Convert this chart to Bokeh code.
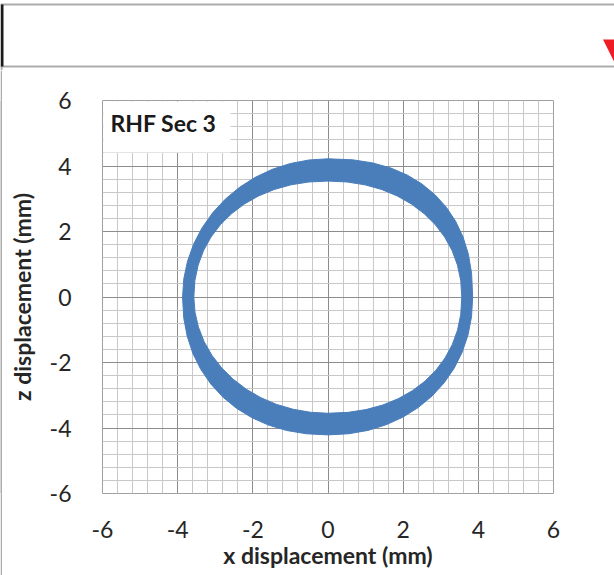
from bokeh.plotting import figure
from bokeh.layouts import column, row
from bokeh.models import FixedTicker, Label, Range1d
from bokeh.embed import file_html
from bokeh.resources import INLINE

# Orbit envelope of the section: outer and inner boundary of the traced band (mm),
# listed counter-clockwise starting from the +x side
outer_x = [3.850, 3.821, 3.736, 3.594, 3.397, 3.148, 2.848, 2.501, 2.107, 1.670, 1.188, 0.655,
           0.000, -0.505, -1.002, -1.481, -1.935, -2.356, -2.736, -3.070, -3.352, -3.575, -3.738, -3.837,
           -3.870, -3.839, -3.747, -3.595, -3.385, -3.120, -2.803, -2.439, -2.031, -1.584, -1.101, -0.582,
           0.000, 0.554, 1.063, 1.542, 1.990, 2.400, 2.768, 3.088, 3.357, 3.570, 3.725, 3.819]
outer_z = [0.000, 0.718, 1.303, 1.830, 2.310, 2.741, 3.122, 3.450, 3.724, 3.939, 4.095, 4.189,
           4.220, 4.184, 4.076, 3.899, 3.655, 3.348, 2.984, 2.569, 2.110, 1.615, 1.092, 0.551,
           0.000, -0.633, -1.197, -1.723, -2.209, -2.653, -3.050, -3.394, -3.683, -3.911, -4.076, -4.176,
           -4.210, -4.176, -4.073, -3.904, -3.671, -3.377, -3.026, -2.624, -2.176, -1.686, -1.162, -0.605]
inner_x = [3.560, 3.531, 3.444, 3.302, 3.104, 2.856, 2.559, 2.219, 1.840, 1.426, 0.983, 0.512,
           0.000, -0.513, -0.985, -1.430, -1.845, -2.225, -2.566, -2.864, -3.113, -3.311, -3.454, -3.541,
           -3.570, -3.539, -3.448, -3.298, -3.092, -2.832, -2.524, -2.173, -1.785, -1.366, -0.924, -0.466,
           0.000, 0.536, 1.013, 1.457, 1.868, 2.244, 2.579, 2.870, 3.114, 3.307, 3.447, 3.532]
inner_z = [0.000, 0.509, 0.977, 1.418, 1.829, 2.207, 2.545, 2.840, 3.087, 3.283, 3.425, 3.511,
           3.540, 3.511, 3.425, 3.283, 3.087, 2.840, 2.545, 2.207, 1.829, 1.418, 0.977, 0.509,
           0.000, -0.463, -0.919, -1.359, -1.775, -2.161, -2.510, -2.816, -3.074, -3.280, -3.429, -3.520,
           -3.550, -3.522, -3.437, -3.298, -3.105, -2.862, -2.572, -2.237, -1.863, -1.453, -1.010, -0.534]

major_ticks = [-6, -4, -2, 0, 2, 4, 6]
minor_ticks = [round(-6 + 0.4 * i, 1) for i in range(31)]
tick_text = {t: str(t) for t in major_ticks}
series_label = "RHF Sec 3"

FONT = "Lato"
BLUE = "#4a7ebb"
INK = "#262626"
EDGE = "#acacac"

# --- strip above the chart -------------------------------------------------
top = figure(width=614, height=70, x_range=Range1d(0, 614), y_range=Range1d(70, 0),
             min_border=0, output_backend="svg", toolbar_location=None)
top.axis.visible = False
top.grid.visible = False
top.outline_line_color = None
top.background_fill_color = "white"
top.border_fill_color = "white"
top.quad(left=[0, 0], right=[614, 614], top=[3, 65], bottom=[5, 67], fill_color=EDGE, line_color=None)
top.quad(left=[0], right=[2], top=[66], bottom=[70], fill_color=EDGE, line_color=None)
top.quad(left=[0], right=[3], top=[4], bottom=[66], fill_color="#1a1a1a", line_color=None)
top.patch(x=[602.5, 632, 616], y=[39, 39, 66], fill_color="#ee1c24", line_color=None)

# --- thin frame edge on the left --------------------------------------------
side = figure(width=2, height=505, min_border=0, output_backend="svg", toolbar_location=None)
side.axis.visible = False
side.grid.visible = False
side.outline_line_color = None
side.background_fill_color = EDGE
side.border_fill_color = EDGE

# --- main chart -------------------------------------------------------------
p = figure(width=612, height=505, x_range=(-6, 6), y_range=(-6, 6),
           min_border_left=100, min_border_right=61, min_border_top=30, min_border_bottom=82,
           output_backend="svg", toolbar_location=None,
           x_axis_label="x displacement (mm)", y_axis_label="z displacement (mm)")
p.background_fill_color = "white"
p.border_fill_color = "white"
p.outline_line_color = "#a0a0a0"
p.outline_line_width = 1

for ax in (p.xaxis[0], p.yaxis[0]):
    ax.ticker = FixedTicker(ticks=major_ticks, minor_ticks=minor_ticks)
    ax.major_label_overrides = tick_text
    ax.axis_line_color = None
    ax.major_tick_line_color = None
    ax.minor_tick_line_color = None
    ax.major_label_text_font = FONT
    ax.major_label_text_font_size = "23px"
    ax.major_label_text_color = INK
    ax.axis_label_text_font = FONT
    ax.axis_label_text_font_style = "bold"
    ax.axis_label_text_font_size = "23px"
    ax.axis_label_text_color = INK

p.xaxis.major_label_standoff = 21
p.xaxis.axis_label_standoff = 0
p.yaxis.major_label_standoff = 25
p.yaxis.major_label_orientation = "horizontal"
p.yaxis.axis_label_standoff = 11

for g in (p.xgrid[0], p.ygrid[0]):
    g.grid_line_color = "#8c8c8c"
    g.grid_line_width = 1
    g.minor_grid_line_color = "#c8c8c8"
    g.minor_grid_line_width = 1

# the band traced by the orbit
p.multi_polygons(xs=[[[outer_x, inner_x]]], ys=[[[outer_z, inner_z]]],
                 fill_color=BLUE, line_color=BLUE, line_width=1)

p.add_layout(Label(x=-6, y=6, x_offset=1, y_offset=-1, text=series_label,
                   text_font=FONT, text_font_style="bold", text_font_size="23px",
                   text_color="#1a1a1a", anchor="top_left",
                   background_fill_color="white", padding=(7, 14, 7, 16)))

layout = column(top, row(side, p, spacing=0), spacing=0)
open("out.html", "w").write(file_html(layout, INLINE))
